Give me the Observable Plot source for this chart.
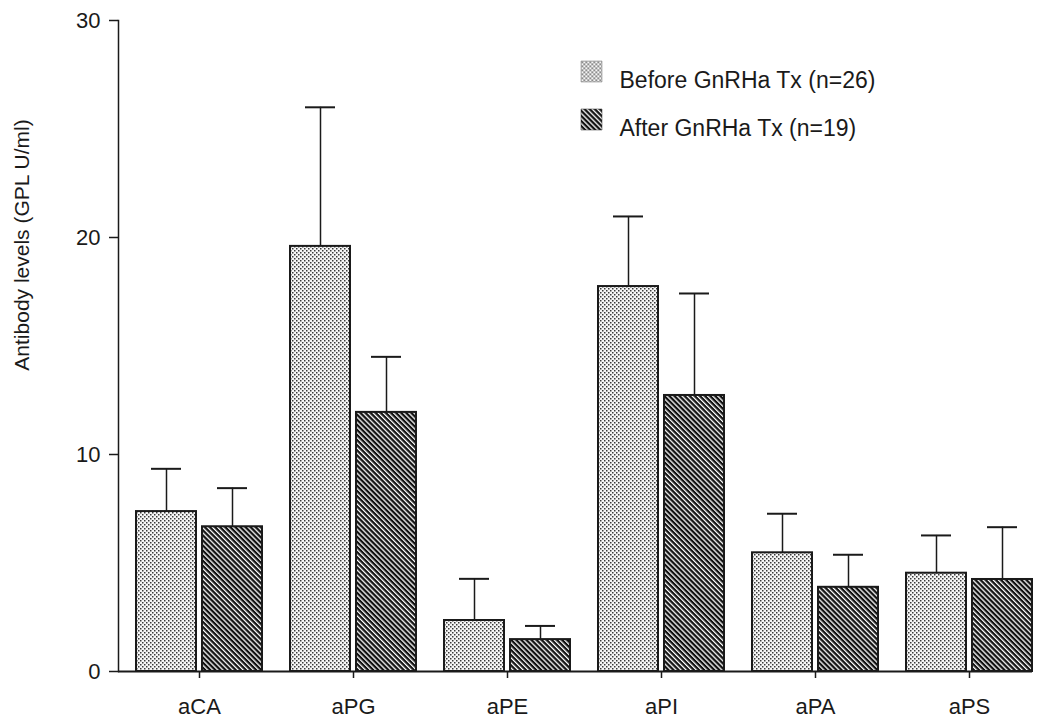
<!DOCTYPE html>
<html>
<head>
<meta charset="utf-8">
<script src="https://cdn.jsdelivr.net/npm/d3@7"></script>
<script src="https://cdn.jsdelivr.net/npm/@observablehq/plot@0.6"></script>
<style>
  html, body { margin: 0; padding: 0; background: #fff; }
</style>
</head>
<body>
<div id="chart"></div>
<script>
// ---- data ----
const categories = ["aCA", "aPG", "aPE", "aPI", "aPA", "aPS"];
const beforeMean = [7.37, 19.59, 2.35, 17.74, 5.47, 4.53];
const beforeErr  = [1.97, 6.41, 1.92, 3.23, 1.80, 1.74];
const afterMean  = [6.67, 11.94, 1.47, 12.72, 3.88, 4.24];
const afterErr   = [1.78, 2.56, 0.63, 4.70, 1.50, 2.41];
const seriesLabels = ["Before GnRHa Tx (n=26)", "After GnRHa Tx (n=19)"];
const yTicks = [0, 10, 20, 30];
const yLabel = "Antibody levels (GPL U/ml)";

const before = categories.map((c, i) => ({cat: c, value: beforeMean[i], upper: beforeMean[i] + beforeErr[i]}));
const after = categories.map((c, i) => ({cat: c, value: afterMean[i], upper: afterMean[i] + afterErr[i]}));

const ink = "#1a1a1a";

const chart = Plot.plot({
  width: 1045,
  height: 719,
  marginLeft: 118,
  marginRight: 13,
  marginTop: 20,
  marginBottom: 48,
  style: {fontFamily: "'Liberation Sans', Arial, sans-serif", fontSize: "22px", color: ink, background: "#fff", overflow: "visible"},
  x: {domain: categories, paddingInner: 0.1818, paddingOuter: 0.0584, align: 1, label: null},
  y: {domain: [0, 30], label: null},
  marks: [
    // bars
    Plot.barY(before, {x: "cat", y: "value", insetRight: 66, fill: "url(#dotsPat)", stroke: ink, strokeWidth: 2}),
    Plot.barY(after, {x: "cat", y: "value", insetLeft: 66, fill: "url(#hatchPat)", stroke: ink, strokeWidth: 2}),
    // error bars (upper only)
    Plot.ruleX(before, {x: "cat", y1: "value", y2: "upper", dx: -33, stroke: ink, strokeWidth: 1.5}),
    Plot.ruleX(after, {x: "cat", y1: "value", y2: "upper", dx: 33, stroke: ink, strokeWidth: 1.5}),
    Plot.tickY(before, {x: "cat", y: "upper", insetLeft: 15, insetRight: 81, stroke: ink, strokeWidth: 2}),
    Plot.tickY(after, {x: "cat", y: "upper", insetLeft: 81, insetRight: 15, stroke: ink, strokeWidth: 2}),
    // axes
    Plot.frame({anchor: "left", stroke: ink, strokeWidth: 1.5}),
    Plot.ruleY([0], {stroke: ink, strokeWidth: 2}),
    Plot.axisY({ticks: yTicks, tickSize: 9, tickPadding: 9, label: null, stroke: ink, strokeWidth: 1.5, fontSize: 22}),
    Plot.axisX({tickSize: 7, tickPadding: 20, label: null, stroke: ink, strokeWidth: 1.5, fontSize: 22}),
    Plot.text([yLabel], {frameAnchor: "left", textAnchor: "middle", rotate: -90, dx: -96, dy: -101, fontSize: 21, fill: ink}),
    // legend
    Plot.dot([seriesLabels[0]], {frameAnchor: "top-left", dx: 473, dy: 51, symbol: "square", r: 11.85, fill: "url(#dotsPat)", stroke: "#777", strokeWidth: 0.5}),
    Plot.dot([seriesLabels[1]], {frameAnchor: "top-left", dx: 473, dy: 99, symbol: "square", r: 11.85, fill: "url(#hatchPat)", stroke: "#333", strokeWidth: 0.5}),
    Plot.text([seriesLabels[0]], {frameAnchor: "top-left", dx: 501, dy: 51, text: d => d, textAnchor: "start", fontSize: 23, fill: ink}),
    Plot.text([seriesLabels[1]], {frameAnchor: "top-left", dx: 501, dy: 99, text: d => d, textAnchor: "start", fontSize: 23, fill: ink})
  ]
});

// fill patterns
const defs = d3.select(chart).insert("defs", ":first-child");
const dots = defs.append("pattern").attr("id", "dotsPat").attr("patternUnits", "userSpaceOnUse")
  .attr("width", 4).attr("height", 4);
dots.append("rect").attr("width", 4).attr("height", 4).attr("fill", "#f6f6f6");
dots.append("rect").attr("x", 0).attr("y", 0).attr("width", 1.5).attr("height", 1.5).attr("fill", "#3a3a3a");
dots.append("rect").attr("x", 2).attr("y", 2).attr("width", 1.5).attr("height", 1.5).attr("fill", "#3a3a3a");
const hatch = defs.append("pattern").attr("id", "hatchPat").attr("patternUnits", "userSpaceOnUse")
  .attr("width", 3.6).attr("height", 3.6).attr("patternTransform", "rotate(45)");
hatch.append("rect").attr("width", 3.6).attr("height", 3.6).attr("fill", "#fff");
hatch.append("rect").attr("x", 0).attr("y", 0).attr("width", 3.6).attr("height", 2.3).attr("fill", "#111");

document.getElementById("chart").appendChild(chart);
</script>
</body>
</html>
